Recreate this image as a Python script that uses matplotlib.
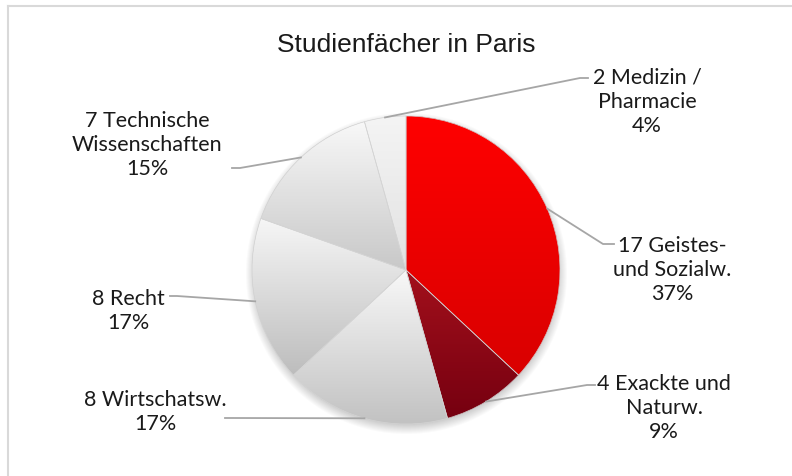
import numpy as np
import matplotlib.pyplot as plt
from matplotlib.patches import PathPatch

W, H = 792, 477

title = "Studienfächer in Paris"
labels = ["17 Geistes-\nund Sozialw.", "4 Exackte und\nNaturw.", "8 Wirtschatsw.",
          "8 Recht", "7 Technische\nWissenschaften", "2 Medizin /\nPharmacie"]
counts = [17, 4, 8, 8, 7, 2]
percents = ["37%", "9%", "17%", "17%", "15%", "4%"]

# gradient colours per slice: (top, bottom)
grad = [("#ff0000", "#d90000"), ("#a3101c", "#760010"), ("#f8f8f8", "#c2c2c2"),
        ("#f6f6f6", "#bdbdbd"), ("#f8f8f8", "#c8c8c8"), ("#f4f4f4", "#e2e2e2")]

# layout in pixels (y measured from the top)
cx, cy, R = 406, 271, 154
label_pos = [(672, 270), (664, 408), (155, 412), (128, 311), (147, 145), (647, 102)]
line_end = [(603, 245), (587, 386), (232, 419), (177, 297), (240, 169), (580, 79)]
stub = [11, 8, -7, -7, -8, 8]


def Y(y):
    return H - y


plt.rcParams['font.family'] = ['Lato', 'DejaVu Sans']
fig = plt.figure(figsize=(W / 100, H / 100), dpi=100)
ax = fig.add_axes([0, 0, 1, 1])
ax.set_xlim(0, W)
ax.set_ylim(0, H)
ax.axis('off')

# chart frame
ax.plot([8, W + 5], [Y(7), Y(7)], color="#d9d9d9", lw=1.5)
ax.plot([8, 8], [Y(7), -5], color="#d9d9d9", lw=1.5)

# soft shadow under the pie
gx, gy = np.meshgrid(np.arange(0, W), np.arange(0, H))
d = np.hypot(gx - cx, gy - Y(cy + 4))
alpha = np.clip((R + 7 - d) / 10, 0, 1) * 0.35
shadow = np.zeros((H, W, 4))
shadow[..., :3] = 0.45
shadow[..., 3] = alpha
ax.imshow(shadow, extent=[0, W, 0, H], origin='lower', zorder=1, interpolation='bilinear')

wedges, _ = ax.pie(counts, startangle=90, counterclock=False, center=(cx, Y(cy)),
                   radius=R, frame=True, colors=[g[1] for g in grad],
                   wedgeprops=dict(linewidth=0))
for w, (top, bot) in zip(wedges, grad):
    w.set_zorder(2)
    bb = w.get_path().get_extents()
    c0 = np.array(plt.matplotlib.colors.to_rgb(bot))
    c1 = np.array(plt.matplotlib.colors.to_rgb(top))
    t = np.linspace(0, 1, 100)[:, None, None]
    img = c0 + (c1 - c0) * t
    im = ax.imshow(img, extent=[bb.x0, bb.x1, bb.y0, bb.y1], origin='lower',
                   zorder=3, interpolation='bilinear', aspect='auto')
    im.set_clip_path(w)
    ax.add_patch(PathPatch(w.get_path(), fill=False, edgecolor="#d4d4d4", lw=0.5, zorder=4))

ax.set_xlim(0, W)
ax.set_ylim(0, H)
ax.set_aspect('auto')

# leader lines and labels
total = sum(counts)
cum = np.cumsum([0] + counts)
for i, (lab, pct) in enumerate(zip(labels, percents)):
    mid = (cum[i] + cum[i + 1]) / 2 / total * 360
    ang = np.deg2rad(90 - mid)
    sx, sy = cx + R * np.cos(ang), Y(cy) + R * np.sin(ang)
    ex, ey = line_end[i]
    ax.plot([sx, ex, ex + stub[i]], [sy, Y(ey), Y(ey)], color="#a6a6a6", lw=1.3, zorder=5)
    lx, ly = label_pos[i]
    ax.text(lx, Y(ly), lab + "\n" + pct, ha='center', va='center', multialignment='center',
            fontsize=15.5, color="#1a1a1a", linespacing=1.25, zorder=6)

ax.text(cx, Y(45), title, ha='center', va='center', fontsize=19,
        family=['Liberation Sans', 'DejaVu Sans'], color="#1a1a1a")

fig.savefig("out.png", dpi=100)
